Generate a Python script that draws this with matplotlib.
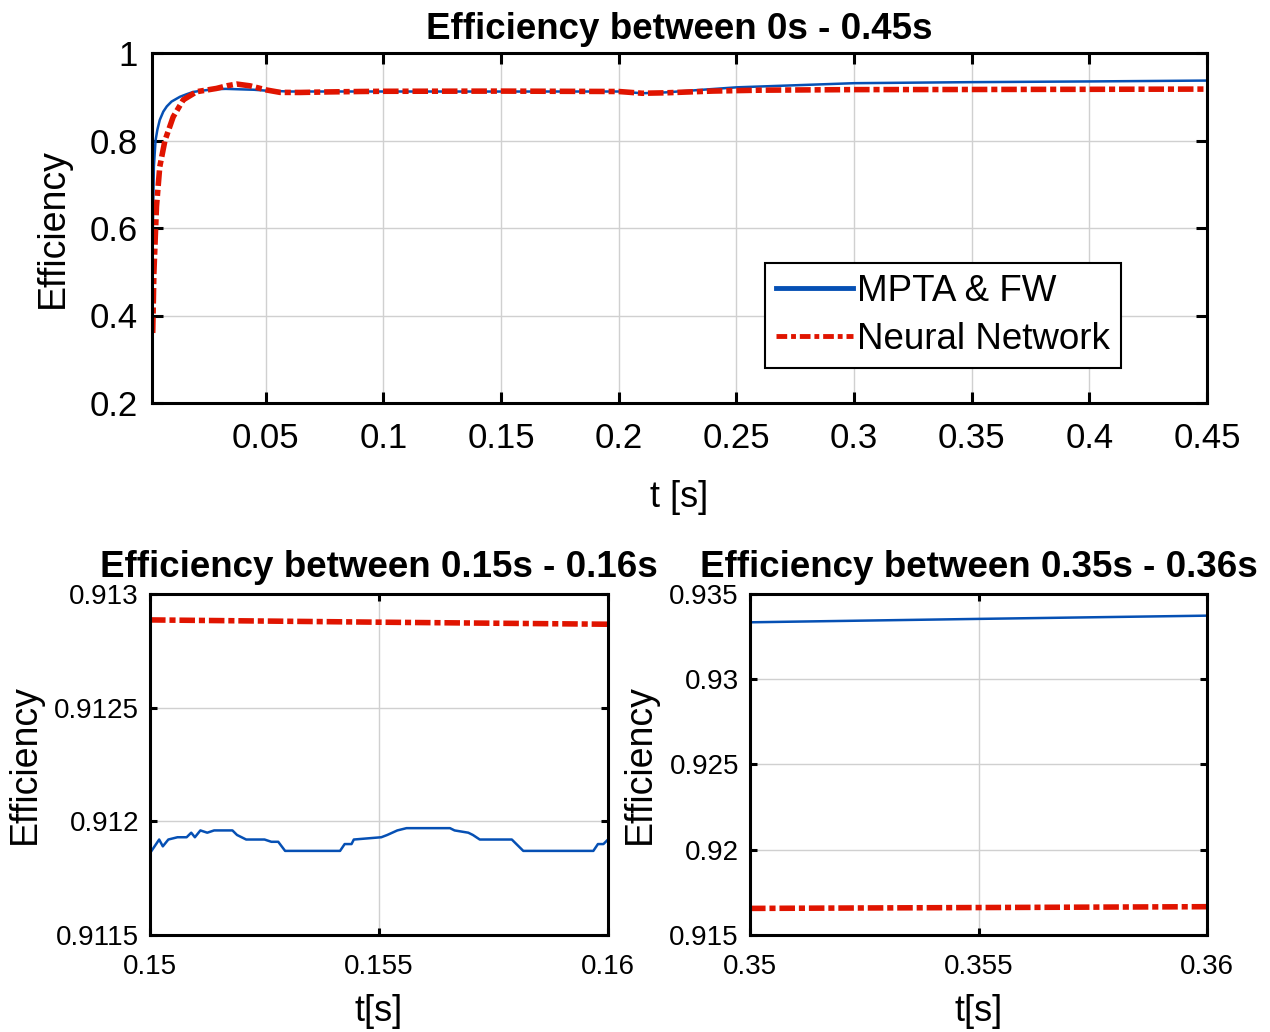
import matplotlib
matplotlib.use("Agg")
import matplotlib.pyplot as plt
from matplotlib.lines import Line2D

plt.rcParams['font.family'] = ['Liberation Sans', 'DejaVu Sans']

# ---------------- data ----------------
# Top panel: 0 s - 0.45 s
t_mpta_full = [0.002, 0.0025, 0.0032, 0.004, 0.005, 0.0065, 0.008, 0.010, 0.0136,
               0.0165, 0.0192, 0.023, 0.028, 0.033, 0.039, 0.045, 0.05, 0.06, 0.08,
               0.10, 0.15, 0.20, 0.205, 0.21, 0.22, 0.25, 0.30, 0.35, 0.36, 0.40, 0.45]
eff_mpta_full = [0.58, 0.74, 0.80, 0.825, 0.847, 0.866, 0.878, 0.889, 0.900,
                 0.906, 0.911, 0.914, 0.917, 0.918, 0.917, 0.916, 0.914, 0.912, 0.912,
                 0.912, 0.9119, 0.912, 0.910, 0.908, 0.910, 0.9215, 0.931, 0.9334, 0.9337, 0.935, 0.937]

t_nn_full = [0.002, 0.0025, 0.0036, 0.005, 0.0072, 0.0107, 0.015, 0.0207, 0.0291,
             0.0335, 0.0377, 0.0433, 0.0504, 0.0561, 0.0646, 0.076, 0.09, 0.10, 0.15,
             0.20, 0.21, 0.22, 0.24, 0.26, 0.30, 0.35, 0.36, 0.40, 0.45]
eff_nn_full = [0.36, 0.497, 0.649, 0.74, 0.80, 0.854, 0.893, 0.9116, 0.919,
               0.925, 0.929, 0.925, 0.9154, 0.910, 0.9098, 0.911, 0.912, 0.9125, 0.9129,
               0.912, 0.908, 0.909, 0.913, 0.915, 0.9163, 0.9166, 0.9167, 0.917, 0.9175]

# Bottom-left panel: 0.15 s - 0.16 s
t_mpta_a = [0.15000, 0.15010, 0.15020, 0.15028, 0.15040, 0.15060, 0.15080, 0.15090,
            0.15098, 0.15110, 0.15125, 0.15140, 0.15180, 0.15190, 0.15210, 0.15250,
            0.15265, 0.15280, 0.15295, 0.15415, 0.15425, 0.15440, 0.15445, 0.15505,
            0.15518, 0.15540, 0.15560, 0.15655, 0.15665, 0.15695, 0.15705, 0.15720,
            0.15790, 0.15800, 0.15815, 0.15968, 0.15978, 0.15990, 0.16000]
eff_mpta_a = [0.91186, 0.91189, 0.91192, 0.91189, 0.91192, 0.91193, 0.91193, 0.91195,
              0.91193, 0.91196, 0.91195, 0.91196, 0.91196, 0.91194, 0.91192, 0.91192,
              0.91191, 0.91191, 0.91187, 0.91187, 0.91190, 0.91190, 0.91192, 0.91193,
              0.91194, 0.91196, 0.91197, 0.91197, 0.91196, 0.91195, 0.91194, 0.91192,
              0.91192, 0.91190, 0.91187, 0.91187, 0.91190, 0.91190, 0.91192]
t_nn_a = [0.150, 0.155, 0.160]
eff_nn_a = [0.912886, 0.912876, 0.912867]

# Bottom-right panel: 0.35 s - 0.36 s
t_mpta_b = [0.350, 0.355, 0.360]
eff_mpta_b = [0.93334, 0.93354, 0.93373]
t_nn_b = [0.350, 0.355, 0.360]
eff_nn_b = [0.91656, 0.91661, 0.91666]

labels = ['MPTA & FW', 'Neural Network']

top_xticks = [0.05, 0.1, 0.15, 0.2, 0.25, 0.3, 0.35, 0.4, 0.45]
top_xticklabels = ['0.05', '0.1', '0.15', '0.2', '0.25', '0.3', '0.35', '0.4', '0.45']
top_yticks = [0.2, 0.4, 0.6, 0.8, 1.0]
top_yticklabels = ['0.2', '0.4', '0.6', '0.8', '1']
bl_xticks = [0.15, 0.155, 0.16]
bl_xticklabels = ['0.15', '0.155', '0.16']
bl_yticks = [0.9115, 0.912, 0.9125, 0.913]
bl_yticklabels = ['0.9115', '0.912', '0.9125', '0.913']
br_xticks = [0.35, 0.355, 0.36]
br_xticklabels = ['0.35', '0.355', '0.36']
br_yticks = [0.915, 0.92, 0.925, 0.93, 0.935]
br_yticklabels = ['0.915', '0.92', '0.925', '0.93', '0.935']

# ---------------- style ----------------
BLUE = '#0650B4'
RED = '#E01400'
DASH = (0, (2.8, 0.7, 1.1, 0.7))

fig = plt.figure(figsize=(12.7, 10.32), dpi=100)

def style_axes(ax, ticklen, tickfs):
    for s in ax.spines.values():
        s.set_linewidth(2.2)
        s.set_color('black')
    ax.tick_params(direction='in', length=ticklen, width=2.2, top=True, right=True,
                   labelsize=tickfs, pad=8, colors='black')
    ax.grid(True, color='#d0d0d0', linewidth=1.0)
    ax.set_axisbelow(True)

# Top axes
ax1 = fig.add_axes([152/1270, 1-403/1032, (1207-152)/1270, (403-53)/1032])
ax1.plot(t_mpta_full, eff_mpta_full, color=BLUE, lw=1.8)
ax1.plot(t_nn_full, eff_nn_full, color=RED, lw=4.0, linestyle=DASH)
ax1.set_xlim(0.0017, 0.45)
ax1.set_ylim(0.2, 1.0)
ax1.set_xticks(top_xticks)
ax1.set_xticklabels(top_xticklabels)
ax1.set_yticks(top_yticks)
ax1.set_yticklabels(top_yticklabels)
style_axes(ax1, 8, 25)
ax1.tick_params(axis='x', pad=14)
ax1.tick_params(axis='y', pad=10)
ax1.set_title('Efficiency between 0s - 0.45s', fontsize=26.5, fontweight='bold', pad=10)
ax1.set_xlabel('t [s]', fontsize=26, labelpad=18)
ax1.set_ylabel('Efficiency', fontsize=27, labelpad=14)
h1 = Line2D([], [], color=BLUE, lw=3.5)
h2 = Line2D([], [], color=RED, lw=3.5, linestyle=(0, (2.2, 0.8, 1.0, 0.8)))
leg = ax1.legend(handles=[h1, h2], labels=labels, loc='lower left',
                 bbox_to_anchor=(0.581, 0.10),
                 fontsize=26.5, frameon=True, fancybox=False, framealpha=1,
                 edgecolor='black', handlelength=2.1, handletextpad=0.1,
                 borderpad=0.3, labelspacing=0.35, borderaxespad=0)
leg.get_frame().set_linewidth(1.5)

# Bottom-left axes
ax2 = fig.add_axes([150/1270, 1-935/1032, (608-150)/1270, (935-594)/1032])
ax2.plot(t_mpta_a, eff_mpta_a, color=BLUE, lw=1.8)
ax2.plot(t_nn_a, eff_nn_a, color=RED, lw=4.0, linestyle=DASH)
ax2.set_xlim(0.15, 0.16)
ax2.set_ylim(0.9115, 0.913)
ax2.set_xticks(bl_xticks)
ax2.set_xticklabels(bl_xticklabels)
ax2.set_yticks(bl_yticks)
ax2.set_yticklabels(bl_yticklabels)
style_axes(ax2, 5, 20)
ax2.tick_params(axis='x', pad=14)
ax2.set_title('Efficiency between 0.15s - 0.16s', fontsize=26.5, fontweight='bold', pad=12)
ax2.set_xlabel('t[s]', fontsize=26, labelpad=10)
ax2.set_ylabel('Efficiency', fontsize=27, labelpad=8)

# Bottom-right axes
ax3 = fig.add_axes([750/1270, 1-935/1032, (1207-750)/1270, (935-594)/1032])
ax3.plot(t_mpta_b, eff_mpta_b, color=BLUE, lw=1.8)
ax3.plot(t_nn_b, eff_nn_b, color=RED, lw=4.0, linestyle=DASH)
ax3.set_xlim(0.35, 0.36)
ax3.set_ylim(0.915, 0.935)
ax3.set_xticks(br_xticks)
ax3.set_xticklabels(br_xticklabels)
ax3.set_yticks(br_yticks)
ax3.set_yticklabels(br_yticklabels)
style_axes(ax3, 5, 20)
ax3.tick_params(axis='x', pad=14)
ax3.set_title('Efficiency between 0.35s - 0.36s', fontsize=26.5, fontweight='bold', pad=12)
ax3.set_xlabel('t[s]', fontsize=26, labelpad=10)
ax3.set_ylabel('Efficiency', fontsize=27, labelpad=8)

fig.savefig('out.png', dpi=100, facecolor='white')
